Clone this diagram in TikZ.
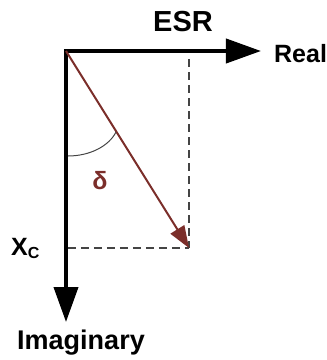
\documentclass[tikz,border=0pt]{standalone}
\usepackage{fontspec}
\setmainfont{Liberation Sans}
\usetikzlibrary{arrows.meta}
\definecolor{vec}{HTML}{7B2E2A}
\definecolor{projgray}{HTML}{444444}
\tikzset{
  axis/.style={line width=4pt,-{Triangle[length=35pt,width=24pt]}},
  vector/.style={vec,line width=2pt,-{Triangle[length=22pt,width=16pt]}},
  proj/.style={projgray,line width=1.5pt,dash pattern=on 8pt off 5pt},
  lbl/.style={inner sep=0pt,font=\bfseries\fontsize{24}{26}\selectfont}
}
\begin{document}
\begin{tikzpicture}[x=1pt,y=-1pt]
\useasboundingbox (0,0) rectangle (327,360);
\coordinate (O) at (66,51);
\coordinate (Oc) at (64,51);
\coordinate (R) at (261,51);
\coordinate (I) at (66,322);
\coordinate (P) at (189,248);
\coordinate (Ptop) at (189,59);
\coordinate (Pleft) at (68,248);
\coordinate (A) at (68,156);
\coordinate (B) at (116,132);
\draw[proj] (Ptop) -- (P);
\draw[proj] (Pleft) -- (P);
\draw[axis] (Oc) -- (R);
\draw[axis] (O) -- (I);
\draw[vector] (O) -- (P);
\draw[line width=1pt,projgray] (A) .. controls (90,156) and (109,146) .. (B);
\node[lbl,font=\bfseries\fontsize{29}{31}\selectfont] (esr) at (183,22) {ESR};
\node[lbl,font=\bfseries\fontsize{25}{27}\selectfont,anchor=west] (real) at (274,54) {Real};
\node[lbl,font=\bfseries\fontsize{27}{29}\selectfont] (imag) at (81,343) {Imaginary};
\node[lbl,font=\bfseries\fontsize{25}{27}\selectfont,anchor=base west] (xc) at (11,255) {X\textsubscript{\fontsize{16}{17}\selectfont C}};
\node[lbl,vec,font=\bfseries\fontsize{25}{27}\selectfont] (delta) at (100,181) {δ};
\end{tikzpicture}
\end{document}
